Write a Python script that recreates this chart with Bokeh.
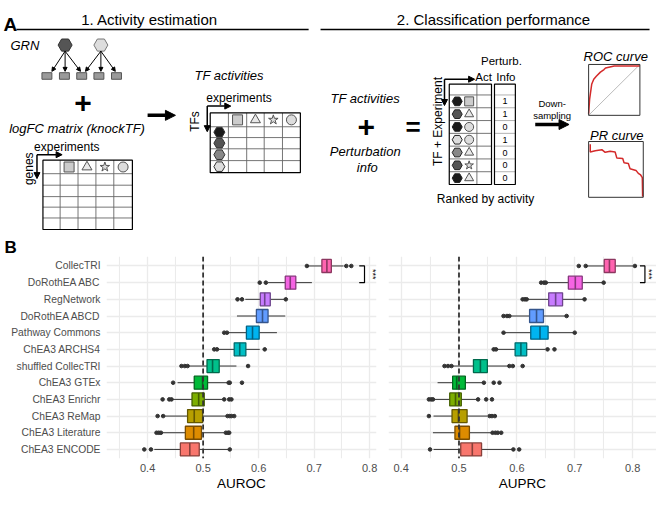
import numpy as np
from bokeh.plotting import figure
from bokeh.models import Range1d, FixedTicker, Span, Arrow, NormalHead, ColumnDataSource
from bokeh.layouts import column, row
from bokeh.core.properties import value
from bokeh.embed import file_html
from bokeh.resources import INLINE

FONT = "Liberation Sans"

# ---------------- data (panel B) ----------------
methods = ["CollecTRI", "DoRothEA ABC", "RegNetwork", "DoRothEA ABCD", "Pathway Commons",
           "ChEA3 ARCHS4", "shuffled CollecTRI", "ChEA3 GTEx", "ChEA3 Enrichr",
           "ChEA3 ReMap", "ChEA3 Literature", "ChEA3 ENCODE"]
colors = ["#FF64B0", "#F564E3", "#C77CFF", "#619CFF", "#00B4F0", "#00BFC4",
          "#00C08B", "#00BA38", "#7CAE00", "#B79F00", "#DE8C00", "#F8766D"]

auroc_lo  = [0.689, 0.617, 0.576, 0.561, 0.545, 0.528, 0.474, 0.454, 0.445, 0.429, 0.426, 0.412]
auroc_q1  = [0.714, 0.648, 0.603, 0.596, 0.578, 0.556, 0.507, 0.484, 0.480, 0.472, 0.468, 0.459]
auroc_med = [0.723, 0.657, 0.611, 0.607, 0.589, 0.566, 0.517, 0.499, 0.492, 0.484, 0.483, 0.476]
auroc_q3  = [0.731, 0.667, 0.621, 0.617, 0.601, 0.577, 0.529, 0.508, 0.502, 0.499, 0.497, 0.493]
auroc_hi  = [0.753, 0.696, 0.647, 0.648, 0.633, 0.602, 0.560, 0.544, 0.535, 0.542, 0.538, 0.547]
auroc_out = [[0.687, 0.758, 0.767], [0.602, 0.613], [0.562, 0.570, 0.649], [],
             [0.538, 0.543], [0.520, 0.525, 0.611], [0.461, 0.467, 0.472, 0.581],
             [0.446, 0.546, 0.548, 0.570], [0.427, 0.439, 0.443, 0.538, 0.547, 0.551],
             [0.418, 0.428, 0.544, 0.548, 0.551, 0.556],
             [0.416, 0.420, 0.424, 0.541, 0.545, 0.547], [0.394, 0.406, 0.548]]

auprc_lo  = [0.721, 0.652, 0.618, 0.588, 0.578, 0.566, 0.488, 0.463, 0.456, 0.456, 0.455, 0.456]
auprc_q1  = [0.751, 0.689, 0.655, 0.622, 0.624, 0.597, 0.525, 0.489, 0.484, 0.488, 0.493, 0.503]
auprc_med = [0.760, 0.701, 0.667, 0.634, 0.640, 0.607, 0.537, 0.496, 0.494, 0.499, 0.501, 0.523]
auprc_q3  = [0.770, 0.713, 0.679, 0.646, 0.654, 0.617, 0.549, 0.511, 0.504, 0.514, 0.518, 0.539]
auprc_hi  = [0.801, 0.749, 0.716, 0.685, 0.699, 0.649, 0.584, 0.542, 0.531, 0.549, 0.557, 0.593]
auprc_out = [[0.707, 0.719, 0.804], [0.642, 0.647, 0.650, 0.750], [0.610, 0.614, 0.617, 0.717],
             [0.577, 0.583, 0.587, 0.686], [0.577, 0.700], [0.560, 0.564, 0.653, 0.665],
             [0.475, 0.481, 0.487, 0.587, 0.593, 0.610], [0.543, 0.560, 0.570],
             [0.448, 0.452, 0.455, 0.533, 0.547, 0.557], [0.448, 0.553, 0.557, 0.562],
             [0.558, 0.563, 0.567, 0.573], [0.450, 0.594, 0.604]]

x_ticks = [0.4, 0.5, 0.6, 0.7, 0.8]
x_minor = [0.35, 0.45, 0.55, 0.65, 0.75, 0.85]
random_baseline = 0.5

# ---------------- data (schematic) ----------------
perturb_info = ["1", "1", "0", "1", "0", "0", "0"]
ranked_hex_fill = ["#1a1a1a", "#555555", "#1a1a1a", "#dddddd", "#888888", "#555555", "#1a1a1a"]
ranked_shape = ["square", "triangle", "circle", "circle", "triangle", "star", "triangle"]
header_shapes = ["square", "triangle", "star", "circle"]
tf_hex_fill = ["#1a1a1a", "#555555", "#888888", "#dddddd"]
roc_fpr = [0.0, 0.02, 0.06, 0.10, 0.15, 0.23, 0.30, 0.33, 0.50, 1.0]
roc_tpr = [0.03, 0.32, 0.61, 0.71, 0.77, 0.85, 0.90, 0.93, 0.97, 0.97]
pr_rec = [0.03, 0.03, 0.121, 0.242, 0.303, 0.394, 0.485, 0.515, 0.624, 0.648, 0.727, 0.758,
          0.867, 0.909, 0.952, 0.982, 0.988]
pr_prec = [0.953, 0.812, 0.835, 0.853, 0.806, 0.824, 0.812, 0.706, 0.694, 0.618, 0.606,
           0.512, 0.482, 0.429, 0.40, 0.353, 0.012]

shape_fill = {"square": "#cccccc", "triangle": "#e8e8e8", "star": "#dddddd", "circle": "#dddddd"}

# page geometry: the reference (660 x 501 of content) is squeezed slightly into 656 x 493
SX = 656 / 660
SY = 493 / 501
TOP_H = 256          # px of the schematic figure
BOT_H = 493 - TOP_H  # px of the box-plot row


def darken(h, f=0.55):
    h = h.lstrip("#")
    r, g, b = int(h[0:2], 16), int(h[2:4], 16), int(h[4:6], 16)
    return "#%02x%02x%02x" % (int(r * f), int(g * f), int(b * f))


# ---------------- schematic (panel A) ----------------
top = figure(width=656, height=TOP_H, x_range=Range1d(0, 656 / SX), y_range=Range1d(TOP_H / SY, 0),
             output_backend="svg", toolbar_location=None, min_border=0)
top.axis.visible = False
top.grid.visible = False
top.outline_line_color = None


def txt(x, y, s, size, style="normal", align="center", angle=0.0, baseline="middle", color="black"):
    top.text(x=[x], y=[y], text=[s], text_font=value(FONT), text_font_size=size,
             text_font_style=style, text_align=align, text_baseline=baseline,
             angle=angle, text_color=color)


def arrow(x0, y0, x1, y1, w=1.0, head=6):
    top.add_layout(Arrow(end=NormalHead(size=head, fill_color="black", line_color="black", line_width=1),
                         x_start=x0, y_start=y0, x_end=x1, y_end=y1,
                         line_width=w, line_color="black"))


def table(xs, ys, inner="#666666"):
    x0, y0, x1, y1 = [], [], [], []
    for x in xs[1:-1]:
        x0.append(x); x1.append(x); y0.append(ys[0]); y1.append(ys[-1])
    for y in ys[1:-1]:
        x0.append(xs[0]); x1.append(xs[-1]); y0.append(y); y1.append(y)
    if x0:
        top.segment(x0=x0, y0=y0, x1=x1, y1=y1, line_color=inner, line_width=0.9)
    top.quad(left=[xs[0]], right=[xs[-1]], top=[ys[0]], bottom=[ys[-1]],
             fill_color=None, line_color="black", line_width=1.2)


def marker(x, y, kind, size=10, fill=None, line="#555555"):
    top.scatter([x], [y], marker=kind, size=size,
                fill_color=fill if fill else shape_fill[kind], line_color=line, line_width=1)


# headers
txt(3, 24, "A", "19px", "bold", align="left", baseline="alphabetic")
txt(150, 19, "1. Activity estimation", "15px")
txt(496, 19, "2. Classification performance", "15px")
top.line([16, 310], [29.5, 29.5], line_color="black", line_width=1.6)
top.line([322, 653], [29.5, 29.5], line_color="black", line_width=1.6)

# GRN
txt(10, 46, "GRN", "13px", "italic", align="left")
gene_x = [46.7, 64.3, 81.7, 99.0, 116.7]
top.rect(x=gene_x, y=[76.7] * 5, width=10, height=6.7, fill_color="#9a9a9a", line_color="#555555")
for gx in [51.7, 65.0, 80.5]:
    arrow(65, 51.5, gx, 72, 1.0, 4)
for gx in [85.5, 101.0, 115.5]:
    arrow(101, 51.5, gx, 72, 1.0, 4)
marker(65, 45.3, "hex", 14, "#555555", "#333333")
marker(101, 45.3, "hex", 14, "#dddddd", "#777777")

txt(83, 104, "+", "30px", "bold")
txt(77, 130, "logFC matrix (knockTF)", "13px", "italic")
txt(66.7, 149, "experiments", "12px")
arrow(36.7, 156.7, 62, 156.7, 1.5, 6)
arrow(36.7, 156.7, 36.7, 181, 1.5, 6)
txt(29, 171, "genes", "12px", angle=np.pi / 2)

t1x = [42.7, 60, 78, 96, 114, 132.7]
t1y = [162.3, 176, 187.7, 199.3, 210, 221, 232.7]
table(t1x, t1y)
for i, s in enumerate(header_shapes):
    marker((t1x[i + 1] + t1x[i + 2]) / 2, 169.2, s, 10)

arrow(148, 116.7, 176, 116.7, 3.5, 10)

txt(230, 76, "TF activities", "13px", "italic")
txt(240, 99, "experiments", "12px")
arrow(208, 107.3, 231.7, 107.3, 1.5, 6)
arrow(208, 107.3, 208, 133.3, 1.5, 6)
txt(196, 123, "TFs", "12px", angle=np.pi / 2)
t2x = [211, 229.3, 247.7, 265.3, 283.7, 301.7]
t2y = [114.3, 128.3, 139.3, 150.7, 162.7, 175]
table(t2x, t2y)
for i, s in enumerate(header_shapes):
    marker((t2x[i + 1] + t2x[i + 2]) / 2, 121.3, s, 10)
for i, c in enumerate(tf_hex_fill):
    marker(220.2, (t2y[i + 1] + t2y[i + 2]) / 2, "hex", 11, c, "#333333")

# classification side
txt(367, 100, "TF activities", "13px", "italic")
txt(368, 129, "+", "30px", "bold")
txt(367, 153, "Perturbation", "13px", "italic")
txt(369, 170, "info", "13px", "italic")
txt(415, 129, "=", "26px", "bold")
txt(440, 123, "TF + Experiment", "12px", angle=np.pi / 2)
arrow(446.7, 80, 477, 80, 1.5, 6)
arrow(446.7, 80, 446.7, 106.7, 1.5, 6)
txt(504, 61, "Perturb.", "11.5px")
txt(486, 78, "Act", "11.5px")
txt(508.5, 78, "Info", "11.5px")
t3y = [85, 96] + [96 + 13 * (k + 1) for k in range(7)]
table([451.5, 479.3, 494], t3y)
table([497, 518], t3y, inner="#aaaaaa")
for i in range(7):
    yc = (t3y[i + 1] + t3y[i + 2]) / 2
    marker(459.5, yc, "hex", 10, ranked_hex_fill[i], "#222222")
    marker(471.5, yc, ranked_shape[i], 9)
    txt(507.5, yc, perturb_info[i], "9px")
txt(488, 201.7, "Ranked by activity", "12px")

txt(555, 104.3, "Down-", "9.5px")
txt(555, 116.7, "sampling", "9.5px")
arrow(538, 126, 572, 126, 3.5, 10)

# ROC inset
rx0, rx1, ry0, ry1 = 591.7, 643.3, 116.7, 65.0
txt(619, 56.7, "ROC curve", "13px", "italic")
top.line([rx0, rx1], [ry0, ry1], line_color="#bbbbbb", line_width=1)
top.line([rx0 + f * (rx1 - rx0) for f in roc_fpr], [ry0 + t * (ry1 - ry0) for t in roc_tpr],
         line_color="#d42a2a", line_width=1.5)
top.quad(left=[rx0], right=[rx1], top=[ry1], bottom=[ry0], fill_color=None,
         line_color="#333333", line_width=1)
# PR inset
px0, px1, py0, py1 = 591.7, 646.7, 200.0, 143.3
txt(620, 136.7, "PR curve", "13px", "italic")
top.line([px0 + r * (px1 - px0) for r in pr_rec], [py0 + p * (py1 - py0) for p in pr_prec],
         line_color="#d42a2a", line_width=1.5)
top.quad(left=[px0], right=[px1], top=[py1], bottom=[py0], fill_color=None,
         line_color="#333333", line_width=1)

txt(4, 251, "B", "17px", "bold", align="left", baseline="alphabetic")


# ---------------- box plots (panel B) ----------------
def box_panel(lo, q1, med, q3, hi, outl, x_start, x_end, xlabel, show_y, width, left, right,
              bracket_x, star_x):
    n = len(methods)
    ypos = [n - 1 - i for i in range(n)]
    p = figure(width=width, height=BOT_H, x_range=Range1d(x_start, x_end),
               y_range=Range1d(-0.544, 11.568), output_backend="svg", toolbar_location=None,
               min_border_left=left, min_border_right=right, min_border_top=0,
               min_border_bottom=34)
    p.outline_line_color = None
    src = ColumnDataSource(dict(y=ypos, lo=lo, q1=q1, med=med, q3=q3, hi=hi, fill=colors,
                                line=[darken(c) for c in colors],
                                ylo=[y - 0.39 for y in ypos], yhi=[y + 0.39 for y in ypos]))
    p.segment(x0="lo", y0="y", x1="q1", y1="y", source=src, line_color="#333333", line_width=1)
    p.segment(x0="q3", y0="y", x1="hi", y1="y", source=src, line_color="#333333", line_width=1)
    p.hbar(y="y", left="q1", right="q3", height=0.78, fill_color="fill", line_color="line",
           line_width=1.3, source=src)
    p.segment(x0="med", y0="ylo", x1="med", y1="yhi", source=src, line_color="line", line_width=1.6)
    ox, oy = [], []
    for i, vals in enumerate(outl):
        for v in vals:
            ox.append(v)
            oy.append(ypos[i])
    p.scatter(ox, oy, size=3.6, color="#333333")
    p.add_layout(Span(location=random_baseline, dimension="height", line_color="#333333",
                      line_dash="5 3", line_width=1.8))
    # significance bracket between CollecTRI and DoRothEA ABC
    p.line([bracket_x[0], bracket_x[1], bracket_x[1], bracket_x[0]],
           [ypos[0], ypos[0], ypos[1], ypos[1]], line_color="black", line_width=1.2)
    p.text(x=[star_x], y=[(ypos[0] + ypos[1]) / 2], text=["***"], angle=-np.pi / 2,
           text_font=value(FONT), text_font_size="9px", text_align="center",
           text_baseline="middle", text_color="black")

    tick = FixedTicker(ticks=x_ticks, minor_ticks=x_minor)
    p.xaxis.ticker = tick
    p.xgrid.ticker = tick
    p.xgrid.grid_line_color = "#ebebeb"
    p.xgrid.grid_line_width = 1.3
    p.xgrid.minor_grid_line_color = "#ebebeb"
    p.xgrid.minor_grid_line_width = 1.1
    p.xaxis.axis_line_color = None
    p.xaxis.major_tick_line_color = None
    p.xaxis.minor_tick_line_color = None
    p.xaxis.major_tick_out = 0
    p.xaxis.major_tick_in = 0
    p.xaxis.minor_tick_out = 0
    p.xaxis.major_label_text_font = FONT
    p.xaxis.major_label_text_font_size = "11px"
    p.xaxis.major_label_text_color = "#4d4d4d"
    p.xaxis.major_label_standoff = 5
    p.xaxis.axis_label = xlabel
    p.xaxis.axis_label_text_font = FONT
    p.xaxis.axis_label_text_font_size = "13.5px"
    p.xaxis.axis_label_text_font_style = "normal"
    p.xaxis.axis_label_text_color = "black"
    p.xaxis.axis_label_standoff = 1

    yt = FixedTicker(ticks=ypos)
    p.ygrid.ticker = yt
    p.ygrid.grid_line_color = "#ebebeb"
    p.ygrid.grid_line_width = 1.3
    p.yaxis.ticker = yt
    if show_y:
        p.yaxis.major_label_overrides = {ypos[i]: methods[i] for i in range(n)}
        p.yaxis.axis_line_color = None
        p.yaxis.major_tick_line_color = None
        p.yaxis.minor_tick_line_color = None
        p.yaxis.major_tick_out = 0
        p.yaxis.major_tick_in = 0
        p.yaxis.minor_tick_out = 0
        p.yaxis.major_label_text_font = FONT
        p.yaxis.major_label_text_font_size = "10.3px"
        p.yaxis.major_label_text_color = "#4d4d4d"
        p.yaxis.major_label_standoff = 6
    else:
        p.yaxis.visible = False
    return p


p_roc = box_panel(auroc_lo, auroc_q1, auroc_med, auroc_q3, auroc_hi, auroc_out,
                  0.3259, 0.8124, "AUROC", True, 380, 106, 4, (0.7813, 0.7908), 0.8065)
p_prc = box_panel(auprc_lo, auprc_q1, auprc_med, auprc_q3, auprc_hi, auprc_out,
                  0.3782, 0.8413, "AUPRC", False, 276, 8, 0, (0.8127, 0.8213), 0.8290)

layout = column(top, row(p_roc, p_prc))
open("out.html", "w").write(file_html(layout, INLINE))
